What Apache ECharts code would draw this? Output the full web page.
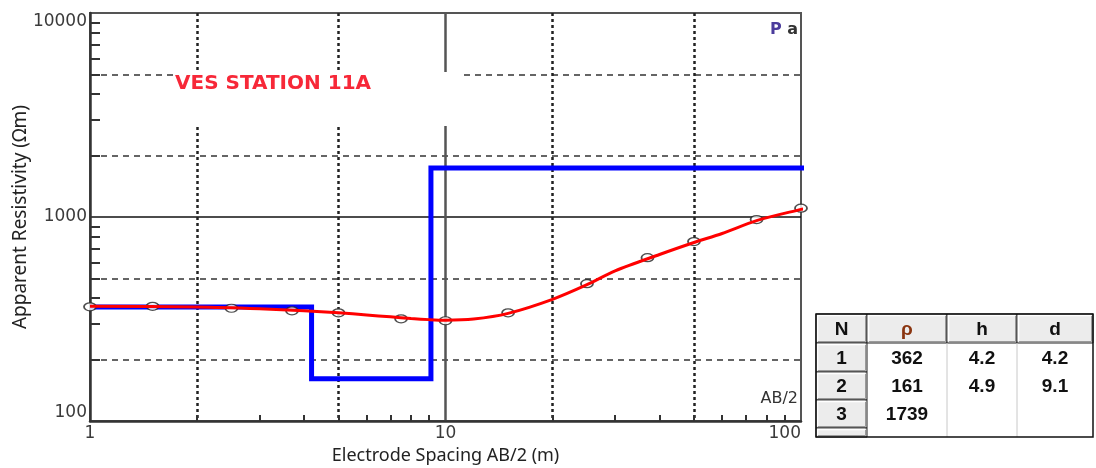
<!DOCTYPE html>
<html><head><meta charset="utf-8">
<script src="https://cdn.jsdelivr.net/npm/echarts@6/dist/echarts.min.js"></script>
<style>html,body{margin:0;padding:0;background:#fff}#c{width:1096px;height:468px}</style>
</head><body><div id="c"></div>
<script>
// ---- data ----
const spacing  = [1, 1.5, 2.5, 3.7, 5, 7.5, 10, 15, 25, 37, 50, 75, 100];
const observed = [363, 365, 357, 347, 339, 317, 310, 339, 471, 632, 758, 972, 1105];
const curveX = [1, 2, 3, 4, 5, 6, 7, 8, 9, 10, 12, 15, 20, 25, 30, 40, 50, 60, 75, 100, 104];
const curveY = [365, 362, 355, 347, 339, 331, 324, 318, 314, 312, 316, 337, 395, 466, 545, 655, 750, 830, 960, 1090, 1105];
const layerN   = ['1', '2', '3'];
const layerRho = [362, 161, 1739];
const layerH   = ['4.2', '4.9', ''];
const layerD   = [4.2, 9.1];
const modelEndX = 104;
const tableHeader = ['N', 'ρ', 'h', 'd'];
const xTickLabels = [1, 10, 100];
const yTickLabels = [100, 1000, 10000];
const xMinorTicks = [2, 3, 4, 5, 6, 7, 8, 9, 20, 30, 40, 50, 60, 70, 80, 90];
const yMinorTicks = [200, 300, 400, 500, 600, 700, 800, 900, 2000, 3000, 4000, 5000, 6000, 7000, 8000, 9000];
const xDotted = [2, 5, 20, 50];
const xSolid = [10];
const yDashed = [200, 500, 2000, 5000];
const ySolid = [1000];

// ---- derived ----
const pts = spacing.map((x, i) => [x, observed[i]]);
const curve = curveX.map((x, i) => [x, curveY[i]]);
const model = [[1, layerRho[0]]];
layerD.forEach((d, i) => { model.push([d, layerRho[i]]); model.push([d, layerRho[i + 1]]); });
model.push([modelEndX, layerRho[layerRho.length - 1]]);

const numFont = 'DejaVu Sans';
function hiddenAxis(extra) {
  return Object.assign({
    type: 'log', logBase: 10, gridIndex: 0,
    axisLine: { show: false }, axisLabel: { show: false },
    axisTick: { show: false }, minorTick: { show: false }
  }, extra);
}
const xBase = { min: 1, max: 100 };
const yBase = { min: 100, max: 10000 };
const plain = v => String(Math.round(v));

const xAxis = [
  Object.assign({}, xBase, hiddenAxis({
    position: 'bottom',
    axisTick: { show: false, customValues: xDotted },
    splitLine: { show: true, lineStyle: { color: '#222', width: 2.5, type: [3, 3] } }
  })),
  Object.assign({}, xBase, hiddenAxis({
    position: 'bottom',
    axisTick: { show: false, customValues: xSolid },
    splitLine: { show: true, lineStyle: { color: '#555', width: 2.5, type: 'solid' } }
  })),
  Object.assign({}, xBase, {
    type: 'log', logBase: 10, position: 'bottom', gridIndex: 0,
    name: 'Electrode Spacing AB/2 (m)', nameLocation: 'middle', nameGap: 26,
    nameTextStyle: { fontFamily: 'Noto Sans', fontSize: 18, color: '#222' },
    axisLine: { show: true, onZero: false, lineStyle: { color: '#333', width: 2.5 } },
    axisTick: { show: true, inside: true, length: 6, customValues: xMinorTicks, lineStyle: { color: '#333', width: 2 } },
    axisLabel: { show: true, margin: 4, fontFamily: numFont, fontSize: 17, color: '#3a3a3a',
      customValues: xTickLabels, formatter: plain, alignMaxLabel: 'right' },
    splitLine: { show: false }
  })
];
const yAxis = [
  Object.assign({}, yBase, hiddenAxis({
    position: 'left',
    axisTick: { show: false, customValues: yDashed },
    splitLine: { show: true, lineStyle: { color: '#333', width: 1.5, type: [6, 5] } }
  })),
  Object.assign({}, yBase, hiddenAxis({
    position: 'left',
    axisTick: { show: false, customValues: ySolid },
    splitLine: { show: true, lineStyle: { color: '#111', width: 1.5, type: 'solid' } }
  })),
  Object.assign({}, yBase, {
    type: 'log', logBase: 10, position: 'left', gridIndex: 0,
    name: 'Apparent Resistivity (Ωm)', nameLocation: 'middle', nameGap: 60, nameMoveOverlap: false,
    nameTextStyle: { fontFamily: 'Noto Sans', fontSize: 19, color: '#222' },
    axisLine: { show: true, onZero: false, lineStyle: { color: '#333', width: 2.5 } },
    axisTick: { show: true, inside: true, length: 10, customValues: yMinorTicks, lineStyle: { color: '#333', width: 2 } },
    axisLabel: { show: true, margin: 3, fontFamily: numFont, fontSize: 17, color: '#3a3a3a',
      customValues: yTickLabels, formatter: plain, verticalAlignMaxLabel: 'top', verticalAlignMinLabel: 'bottom' },
    splitLine: { show: false }
  })
];

// ---- table graphic ----
const colEdges = [816, 867, 947, 1017, 1093];
const rowEdges = [314, 343, 372, 400, 428, 437];
const tableEls = [];
tableEls.push({ type: 'rect', shape: { x: colEdges[0], y: rowEdges[0], width: colEdges[4] - colEdges[0], height: rowEdges[5] - rowEdges[0] },
  style: { fill: '#fff', stroke: 'none' }, z: 1 });
function btn(x0, y0, x1, y1) {
  tableEls.push({ type: 'rect', shape: { x: x0, y: y0, width: x1 - x0, height: y1 - y0 }, style: { fill: '#ececec', stroke: '#222', lineWidth: 1 }, z: 2 });
  tableEls.push({ type: 'polyline', shape: { points: [[x0 + 1.5, y1 - 2], [x0 + 1.5, y0 + 1.5], [x1 - 2, y0 + 1.5]] }, style: { stroke: '#fff', lineWidth: 1.5, fill: null }, z: 3 });
  tableEls.push({ type: 'polyline', shape: { points: [[x0 + 2, y1 - 1.5], [x1 - 1.5, y1 - 1.5], [x1 - 1.5, y0 + 2]] }, style: { stroke: '#9a9a9a', lineWidth: 1, fill: null }, z: 3 });
}
for (let c = 0; c < 4; c++) btn(colEdges[c], rowEdges[0], colEdges[c + 1], rowEdges[1]);
for (let r = 1; r <= 4; r++) btn(colEdges[0], rowEdges[r], colEdges[1], rowEdges[r + 1]);
[colEdges[2], colEdges[3]].forEach(x => tableEls.push({ type: 'line', shape: { x1: x, y1: rowEdges[1], x2: x, y2: rowEdges[5] }, style: { stroke: '#c8c8c8', lineWidth: 1 }, z: 2 }));
tableEls.push({ type: 'rect', shape: { x: colEdges[0], y: rowEdges[0], width: colEdges[4] - colEdges[0], height: rowEdges[5] - rowEdges[0] },
  style: { fill: null, stroke: '#111', lineWidth: 1.5 }, z: 4 });
const tFont = 'bold 19px "Liberation Sans Narrow", "Liberation Sans", sans-serif';
function cellText(txt, c, r, color) {
  tableEls.push({ type: 'text', x: (colEdges[c] + colEdges[c + 1]) / 2, y: (rowEdges[r] + rowEdges[r + 1]) / 2 + 1,
    style: { text: String(txt), font: tFont, fill: color || '#111', align: 'center', verticalAlign: 'middle' }, z: 5 });
}
tableHeader.forEach((h, c) => cellText(h, c, 0, c === 1 ? '#8a3510' : '#111'));
layerN.forEach((n, r) => {
  cellText(n, 0, r + 1);
  cellText(layerRho[r], 1, r + 1);
  cellText(layerH[r], 2, r + 1);
  cellText(r < layerD.length ? layerD[r] : '', 3, r + 1);
});

const chart = echarts.init(document.getElementById('c'), null, { renderer: 'canvas' });
chart.setOption({
  animation: false,
  backgroundColor: '#fff',
  grid: { left: 90, right: 295, top: 13, bottom: 47, show: true, borderColor: '#555', borderWidth: 2, backgroundColor: '#fff',
    containLabel: false, outerBoundsMode: 'none' },
  title: [
    { text: 'VES STATION 11A', left: 175, top: 72, backgroundColor: '#fff', padding: [2, 92, 32, 0],
      textStyle: { fontFamily: 'DejaVu Sans', fontWeight: 'bold', fontSize: 20, color: '#f72838' } },
    { text: '{p|P}{a| a}', right: 298, top: 22, padding: 0,
      textStyle: { rich: { p: { fontFamily: 'DejaVu Sans', fontSize: 16, color: '#4b3c9c' }, a: { fontFamily: 'DejaVu Sans', fontSize: 16, color: '#333' } } } },
    { text: 'AB/2', right: 298, top: 391, padding: 0,
      textStyle: { fontFamily: 'DejaVu Sans', fontSize: 16, fontWeight: 'normal', color: '#333' } }
  ],
  xAxis: xAxis,
  yAxis: yAxis,
  series: [
    { type: 'line', name: 'model', xAxisIndex: 2, yAxisIndex: 2, data: model, showSymbol: false, clip: false,
      lineStyle: { color: '#0000ff', width: 5, join: 'miter' }, z: 1 },
    { type: 'scatter', name: 'observed', xAxisIndex: 2, yAxisIndex: 2, data: pts, symbol: 'circle', symbolSize: [12, 8],
      itemStyle: { color: '#fff', borderColor: '#222', borderWidth: 1.5 }, z: 2 },
    { type: 'line', name: 'fit', xAxisIndex: 2, yAxisIndex: 2, data: curve, showSymbol: false, clip: false, smooth: 0.3,
      lineStyle: { color: '#ff0000', width: 3 }, z: 3 }
  ],
  graphic: tableEls
});
</script></body></html>
